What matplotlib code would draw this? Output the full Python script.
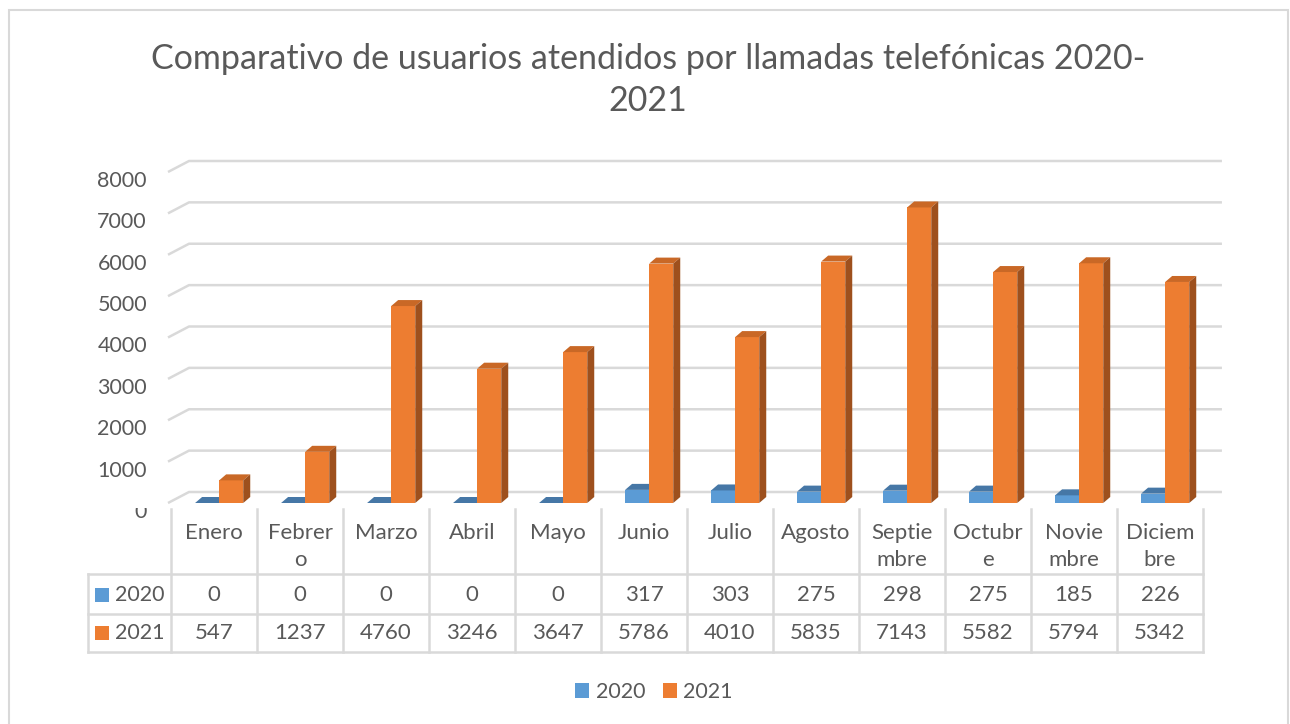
import numpy as np
import matplotlib
matplotlib.use('Agg')
import matplotlib.pyplot as plt
from matplotlib.patches import Polygon, Rectangle, Patch
from matplotlib.transforms import Bbox

################################################################################
# Data
months = ['Enero', 'Febrer\no', 'Marzo', 'Abril', 'Mayo', 'Junio', 'Julio',
          'Agosto', 'Septie\nmbre', 'Octubr\ne', 'Novie\nmbre', 'Diciem\nbre']
v2020 = [0, 0, 0, 0, 0, 317, 303, 275, 298, 275, 185, 226]
v2021 = [547, 1237, 4760, 3246, 3647, 5786, 4010, 5835, 7143, 5582, 5794, 5342]
series_names = ['2020', '2021']
y_ticks = [0, 1000, 2000, 3000, 4000, 5000, 6000, 7000, 8000]
title = 'Comparativo de usuarios atendidos por llamadas telefónicas 2020-\n2021'

################################################################################
# Style
plt.rcParams['font.family'] = ['Lato', 'DejaVu Sans']
txt_clr = '#595959'
grid_clr = '#D9D9D9'
# front, top, side colours for each series
clr_2020 = ('#5B9BD5', '#4677A6', '#3D6891')
clr_2021 = ('#ED7D31', '#C96826', '#9E501D')

W, H = 1290, 724
def fx(px):
    return px / W
def fy(py):
    return 1 - py / H

fig = plt.figure(figsize=(W / 100, H / 100), dpi=100)
fig.patch.set_facecolor('white')

# Outer chart border
fig.patches.append(Rectangle((fx(9), -0.1), fx(1288) - fx(9), fy(10) + 0.1,
                             transform=fig.transFigure, fill=False,
                             ec=grid_clr, lw=1.5))

# Title
fig.text(fx(648), fy(80), title, ha='center', va='center', fontsize=24.5,
         color=txt_clr, linespacing=1.42)

################################################################################
# Plot area (pseudo 3D columns)
ax = fig.add_axes([fx(171), fy(503), (1203 - 171) / W, (503 - 172) / H])
ax.set_xlim(0, 12)
ax.set_ylim(0, 8000)
ax.axis('off')

px_x = 86.0                 # pixels per category
px_y = 331.0 / 8000         # pixels per unit value
wall_dx, wall_dy = 21 / px_x, 11 / px_y
bar_dx, bar_dy = 7 / px_x, 6 / px_y
x_front = -3 / px_x
x_end = 12.22

for v in y_ticks:
    ax.plot([x_front, x_front + wall_dx, x_end], [v, v + wall_dy, v + wall_dy],
            color=grid_clr, lw=1.8, clip_on=False, zorder=1,
            solid_capstyle='butt')
    t = ax.text(-24 / px_x, v - 9 / px_y, str(v), ha='right', va='center',
                fontsize=15.5, color=txt_clr, clip_on=False)
    if v == 0:
        # the bottom label is partly hidden in the original
        t.set_clip_on(True)
        t.set_clip_box(Bbox.from_extents(0, 0, W, H - 508))

bar_w = 0.28
offsets = [0.28, 0.56]
z = 2
for i in range(len(months)):
    for vals, off, clrs in zip([v2020, v2021], offsets, [clr_2020, clr_2021]):
        h = vals[i]
        x0 = i + off
        x1 = x0 + bar_w
        ax.bar(x0, h, width=bar_w, align='edge', color=clrs[0], lw=0,
               zorder=z, clip_on=False)
        ax.add_patch(Polygon([(x0, h), (x1, h), (x1 + bar_dx, h + bar_dy),
                              (x0 + bar_dx, h + bar_dy)], closed=True,
                             fc=clrs[1], lw=0, zorder=z, clip_on=False))
        ax.add_patch(Polygon([(x1, 0), (x1 + bar_dx, bar_dy),
                              (x1 + bar_dx, h + bar_dy), (x1, h)], closed=True,
                             fc=clrs[2], lw=0, zorder=z, clip_on=False))
        z += 1

################################################################################
# Data table
tax = fig.add_axes([fx(88), fy(652), (1203 - 88) / W, (652 - 509) / H])
x_min = -(171 - 88) / px_x
tax.set_xlim(x_min, 12)
tax.set_ylim(652, 509)
tax.axis('off')

for k in range(13):
    tax.plot([k, k], [509, 652], color=grid_clr, lw=1.8, clip_on=False)
for yl in [574, 614, 652]:
    tax.plot([x_min, 12], [yl, yl], color=grid_clr, lw=1.8, clip_on=False)
tax.plot([x_min, x_min], [574, 652], color=grid_clr, lw=1.8, clip_on=False)

for i, m in enumerate(months):
    for j, line in enumerate(m.split('\n')):
        tax.text(i + 0.5, 533 + 27 * j, line, ha='center', va='center',
                 fontsize=16, color=txt_clr)
    tax.text(i + 0.5, 595, str(v2020[i]), ha='center', va='center',
             fontsize=16, color=txt_clr)
    tax.text(i + 0.5, 633, str(v2021[i]), ha='center', va='center',
             fontsize=16, color=txt_clr)

for name, yc, clrs in zip(series_names, [595, 633], [clr_2020, clr_2021]):
    tax.add_patch(Rectangle(((95 - 171) / px_x, yc - 7), 14 / px_x, 14,
                            fc=clrs[0], lw=0, clip_on=False))
    tax.text((115 - 171) / px_x, yc, name, ha='left', va='center',
             fontsize=15.5, color=txt_clr)

################################################################################
# Legend
handles = [Patch(fc=clr_2020[0], lw=0), Patch(fc=clr_2021[0], lw=0)]
leg = fig.legend(handles, series_names, loc='center', ncol=2,
                 bbox_to_anchor=(fx(654), fy(692)), frameon=False,
                 fontsize=15.5, handlelength=0.65, handleheight=0.65,
                 handletextpad=0.3, columnspacing=0.8)
for t in leg.get_texts():
    t.set_color(txt_clr)

plt.savefig('out.png', dpi=100)
